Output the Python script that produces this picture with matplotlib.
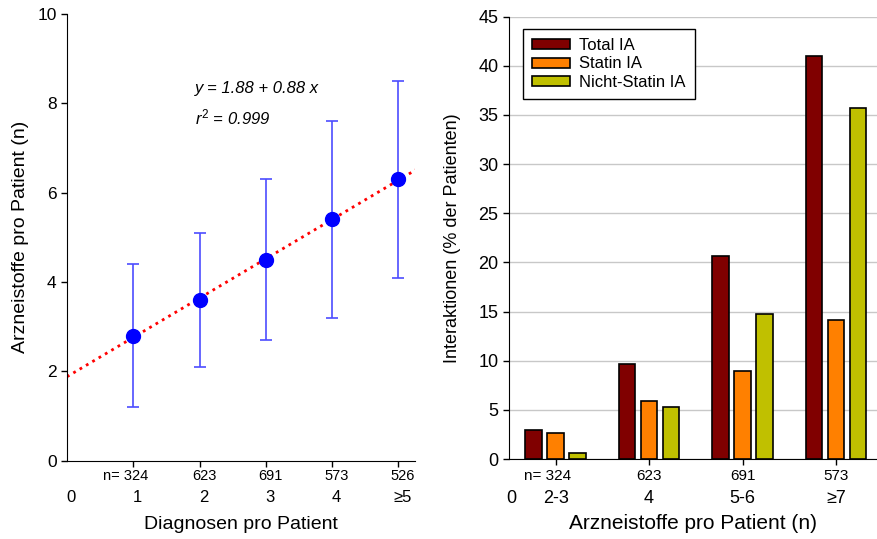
import numpy as np
import matplotlib.pyplot as plt
from matplotlib import rcParams

rcParams['font.family'] = ['Liberation Sans', 'DejaVu Sans']
rcParams['mathtext.fontset'] = 'custom'
rcParams['mathtext.it'] = 'Liberation Sans:italic'
rcParams['mathtext.rm'] = 'Liberation Sans'

# Linke Grafik: Arzneistoffe je Diagnosenanzahl
diag_x = [1, 2, 3, 4, 5]
diag_mean = [2.8, 3.6, 4.5, 5.4, 6.3]
diag_lo = [1.2, 2.1, 2.7, 3.2, 4.1]
diag_hi = [4.4, 5.1, 6.3, 7.6, 8.5]
diag_n = ['324', '623', '691', '573', '526']
diag_cat = ['0', '1', '2', '3', '4', '≥5']
fit_a, fit_b = 1.88, 0.88

# Rechte Grafik: Interaktionen je Arzneistoffanzahl
med_cat = ['2-3', '4', '5-6', '≥7']
med_n = ['324', '623', '691', '573']
total_ia = [3.0, 9.7, 20.7, 41.0]
statin_ia = [2.6, 5.9, 9.0, 14.1]
nicht_statin_ia = [0.6, 5.3, 14.8, 35.7]

fig = plt.figure(figsize=(8.77, 5.39), dpi=100)
ax1 = fig.add_axes([0.0764, 0.1453, 0.3968, 0.8288])
ax2 = fig.add_axes([0.5804, 0.1484, 0.4196, 0.8206])

# ---- links
yerr = [np.array(diag_mean) - np.array(diag_lo), np.array(diag_hi) - np.array(diag_mean)]
xs = np.linspace(0, 5.27, 50)
ax1.plot(xs, fit_a + fit_b * xs, ':', color='red', lw=2, zorder=2)
ax1.errorbar(diag_x, diag_mean, yerr=yerr, fmt='none', ecolor='#4d4dff',
             elinewidth=1.2, capsize=4, capthick=1.2, zorder=3)
ax1.plot(diag_x, diag_mean, 'o', color='#0000ff', ms=10, zorder=4)
ax1.set_xlim(0, 5.25)
ax1.set_ylim(0, 10)
ax1.set_yticks([0, 2, 4, 6, 8, 10])
ax1.set_xticks(diag_x)
ax1.set_xticklabels([])
for s in ['top', 'right']:
    ax1.spines[s].set_visible(False)
ax1.tick_params(direction='out', length=4, width=1, labelsize=12.5)
ax1.text(1.93, 8.34, 'y = 1.88 + 0.88 x', fontstyle='italic', fontsize=12, va='center')
ax1.text(1.93, 7.69, r'$r^2$ = 0.999', fontstyle='italic', fontsize=12, va='center')

tr1 = ax1.get_xaxis_transform()
ax1.text(diag_x[0] + 0.22, -0.034, 'n= ' + diag_n[0], transform=tr1, ha='right', va='center',
         fontsize=10.5)
for x, n in zip(diag_x[1:], diag_n[1:]):
    ax1.text(x + 0.07, -0.034, n, transform=tr1, ha='center', va='center', fontsize=10.5)
for x, c in zip([0] + diag_x, diag_cat):
    ax1.text(x + 0.06, -0.0835, c, transform=tr1, ha='center', va='center', fontsize=12)
ax1.set_xlabel('Diagnosen pro Patient', fontsize=14)
ax1.xaxis.set_label_coords(0.5, -0.124)
ax1.set_ylabel('Arzneistoffe pro Patient (n)', fontsize=14)
ax1.yaxis.set_label_coords(-0.109, 0.5)

# ---- rechts
pos = np.arange(len(med_cat)) + 0.5
w = 0.177
off = 0.2355
ax2.bar(pos - off, total_ia, w, color='#800000', edgecolor='black', lw=1.2, label='Total IA', zorder=3)
ax2.bar(pos, statin_ia, w, color='#ff8000', edgecolor='black', lw=1.2, label='Statin IA', zorder=3)
ax2.bar(pos + off, nicht_statin_ia, w, color='#c0c000', edgecolor='black', lw=1.2,
        label='Nicht-Statin IA', zorder=3)
ax2.set_xlim(0, 3.94)
ax2.set_ylim(0, 45)
ax2.set_yticks(np.arange(0, 46, 5))
ax2.set_xticks(pos)
ax2.set_xticklabels([])
ax2.yaxis.grid(True, color='#c8c8c8', lw=1)
ax2.set_axisbelow(True)
for s in ['top', 'right']:
    ax2.spines[s].set_visible(False)
ax2.tick_params(direction='out', length=4, width=1, labelsize=13)

tr2 = ax2.get_xaxis_transform()
ax2.text(pos[0] + 0.165, -0.038, 'n= ' + med_n[0], transform=tr2, ha='right', va='center',
         fontsize=11)
for x, n in zip(pos[1:], med_n[1:]):
    ax2.text(x, -0.038, n, transform=tr2, ha='center', va='center', fontsize=11)
ax2.text(0.02, -0.090, '0', transform=tr2, ha='center', va='center', fontsize=13)
for x, c in zip(pos, med_cat):
    ax2.text(x, -0.090, c, transform=tr2, ha='center', va='center', fontsize=13)
ax2.set_xlabel('Arzneistoffe pro Patient (n)', fontsize=15)
ax2.xaxis.set_label_coords(0.5, -0.124)
ax2.set_ylabel('Interaktionen (% der Patienten)', fontsize=13)
ax2.yaxis.set_label_coords(-0.13, 0.5)

leg = ax2.legend(loc='upper left', bbox_to_anchor=(0.038, 0.973), borderaxespad=0,
                 fontsize=12, fancybox=False, framealpha=1, edgecolor='black',
                 handlelength=2.3, handleheight=0.55, labelspacing=0.22,
                 handletextpad=0.54, borderpad=0.55)
leg.get_frame().set_linewidth(1)

fig.savefig('out.png', dpi=100)
